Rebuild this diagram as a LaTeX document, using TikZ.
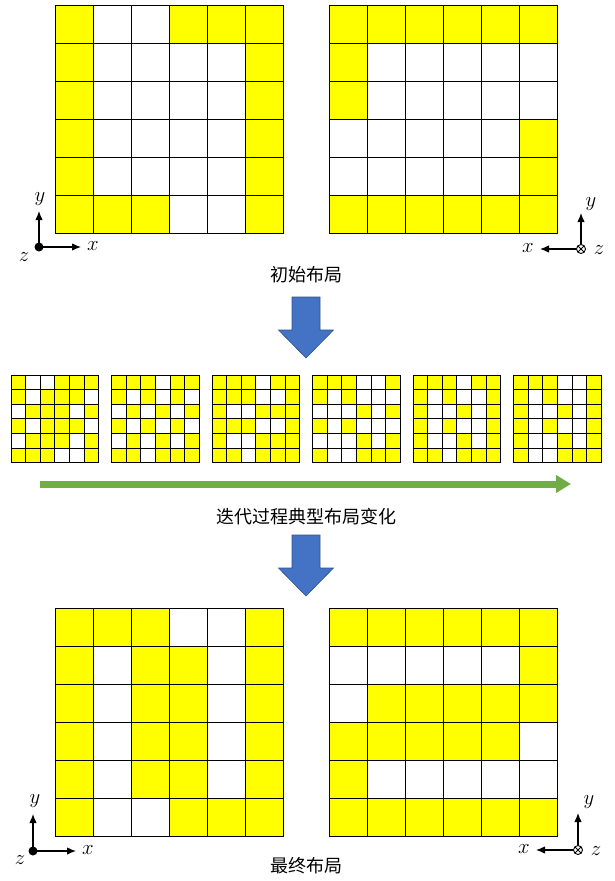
\documentclass[tikz,border=0pt]{standalone}
\usepackage{fontspec}
\newfontfamily\cjk{Noto Sans CJK SC}
\usetikzlibrary{arrows.meta}

\definecolor{cellyellow}{RGB}{255,255,0}
\definecolor{arrowblue}{RGB}{68,114,196}
\definecolor{arrowedge}{RGB}{47,82,143}
\definecolor{flowgreen}{RGB}{112,173,71}

\tikzset{
  cell/.style={draw=black, line width=0.9pt},
  caption/.style={font=\cjk\fontsize{18}{20}\selectfont},
  axis/.style={-{Latex[length=9pt,width=7.5pt]}, line width=1.2pt},
  axlabel/.style={font=\huge, inner sep=0pt},
  dotorigin/.style={circle, fill, inner sep=0pt, minimum size=9pt},
  intoorigin/.style={circle, draw, inner sep=0pt, minimum size=9pt, line width=0.9pt,
    path picture={\draw[line width=0.8pt]
      (path picture bounding box.south west) -- (path picture bounding box.north east)
      (path picture bounding box.north west) -- (path picture bounding box.south east);}},
}

% x, y, cell size, rows (1 = yellow)
\newcommand{\layoutgrid}[4]{%
  \foreach \rowvals [count=\r from 0] in {#4} {
    \foreach \v [count=\k from 0] in \rowvals {
      \ifnum\v=1 \def\cellcol{cellyellow}\else\def\cellcol{white}\fi
      \draw[cell, fill=\cellcol] ({#1+\k*#3},{#2+\r*#3}) rectangle +(#3,#3);
    }
  }
}

% centre x, top y
\newcommand{\downblock}[2]{%
  \draw[arrowedge, fill=arrowblue, line width=0.6pt]
    ({#1-14},#2) -- ({#1+14},#2) -- ({#1+14},{#2+33}) -- ({#1+27.5},{#2+33})
    -- (#1,{#2+61}) -- ({#1-27.5},{#2+33}) -- ({#1-14},{#2+33}) -- cycle;
}

\begin{document}
\begin{tikzpicture}[x=1pt,y=-1pt]
  \useasboundingbox (0,0) rectangle (614,881);

  % initial layout
  \layoutgrid{55}{5}{38.1}{{1,0,0,1,1,1},{1,0,0,0,0,1},{1,0,0,0,0,1},{1,0,0,0,0,1},{1,0,0,0,0,1},{1,1,1,0,0,1}}
  \layoutgrid{329}{5}{38.1}{{1,1,1,1,1,1},{1,0,0,0,0,0},{1,0,0,0,0,0},{0,0,0,0,0,1},{0,0,0,0,0,1},{1,1,1,1,1,1}}

  \node[dotorigin] (o1) at (39,247) {};
  \coordinate (x1) at (81,247);
  \coordinate (y1) at (39,211);
  \draw[axis] (o1.center) -- (x1);
  \draw[axis] (o1.center) -- (y1);
  \node[axlabel] (lx1) at (93,246) {$x$};
  \node[axlabel] (ly1) at (40,199) {$y$};
  \node[axlabel] (lz1) at (24,257) {$z$};

  \node[intoorigin] (o2) at (581,249) {};
  \coordinate (x2) at (540,249);
  \coordinate (y2) at (581,213);
  \draw[axis] (o2) -- (x2);
  \draw[axis] (o2) -- (y2);
  \node[axlabel] (lx2) at (528,248) {$x$};
  \node[axlabel] (ly2) at (591,204) {$y$};
  \node[axlabel] (lz2) at (599,250) {$z$};

  \node[caption] (initcap) at (306,275) {初始布局};
  \downblock{306}{297}

  % iterations
  \begin{scope}[cell/.append style={line width=1pt}]
  \layoutgrid{11}{375}{14.65}{{1,0,0,1,1,1},{1,0,1,1,1,0},{0,1,1,1,0,1},{1,0,1,1,1,0},{0,1,1,1,0,1},{1,1,1,0,0,1}}
  \layoutgrid{111.5}{375}{14.65}{{1,1,1,0,1,1},{1,0,1,0,1,0},{0,1,0,1,0,1},{1,0,1,0,1,0},{0,1,0,1,0,1},{1,1,0,1,1,1}}
  \layoutgrid{212}{375}{14.65}{{1,1,1,0,1,1},{1,1,1,0,0,1},{1,0,0,1,1,1},{1,1,1,0,0,1},{1,0,0,1,1,1},{1,1,0,1,1,1}}
  \layoutgrid{312.5}{375}{14.65}{{1,1,1,0,0,1},{1,0,1,0,0,0},{0,0,0,1,0,1},{1,0,1,0,0,0},{0,0,0,1,0,1},{1,0,0,1,1,1}}
  \layoutgrid{413}{375}{14.65}{{1,1,1,0,1,1},{1,0,1,0,0,1},{1,0,0,1,0,1},{1,0,1,0,0,1},{1,0,0,1,0,1},{1,1,0,1,1,1}}
  \layoutgrid{513.5}{375}{14.65}{{1,1,1,0,0,1},{1,0,1,0,0,1},{1,0,0,1,0,1},{1,0,1,0,0,1},{1,0,0,1,0,1},{1,0,0,1,1,1}}
  \end{scope}

  \coordinate (flowstart) at (40,484);
  \coordinate (flowend) at (571,484);
  \draw[flowgreen, line width=7pt, -{Triangle[length=15pt,width=17pt]}] (flowstart) -- (flowend);

  \node[caption] (itercap) at (306,517) {迭代过程典型布局变化};
  \downblock{306}{535}

  % final layout
  \layoutgrid{55}{608}{38.1}{{1,1,1,0,0,1},{1,0,1,1,0,1},{1,0,1,1,0,1},{1,0,1,1,0,1},{1,0,1,1,0,1},{1,0,0,1,1,1}}
  \layoutgrid{329}{608}{38.1}{{1,1,1,1,1,1},{0,0,0,0,0,1},{0,1,1,1,1,1},{1,1,1,1,1,0},{1,0,0,0,0,0},{1,1,1,1,1,1}}

  \node[dotorigin] (o3) at (33,851) {};
  \coordinate (x3) at (76,851);
  \coordinate (y3) at (33,814);
  \draw[axis] (o3.center) -- (x3);
  \draw[axis] (o3.center) -- (y3);
  \node[axlabel] (lx3) at (88,850) {$x$};
  \node[axlabel] (ly3) at (35,801) {$y$};
  \node[axlabel] (lz3) at (20,860) {$z$};

  \node[intoorigin] (o4) at (578,850) {};
  \coordinate (x4) at (536,850);
  \coordinate (y4) at (578,813);
  \draw[axis] (o4) -- (x4);
  \draw[axis] (o4) -- (y4);
  \node[axlabel] (lx4) at (524,849) {$x$};
  \node[axlabel] (ly4) at (589,802) {$y$};
  \node[axlabel] (lz4) at (596,851) {$z$};

  \node[caption] (finalcap) at (306,866) {最终布局};
\end{tikzpicture}
\end{document}
